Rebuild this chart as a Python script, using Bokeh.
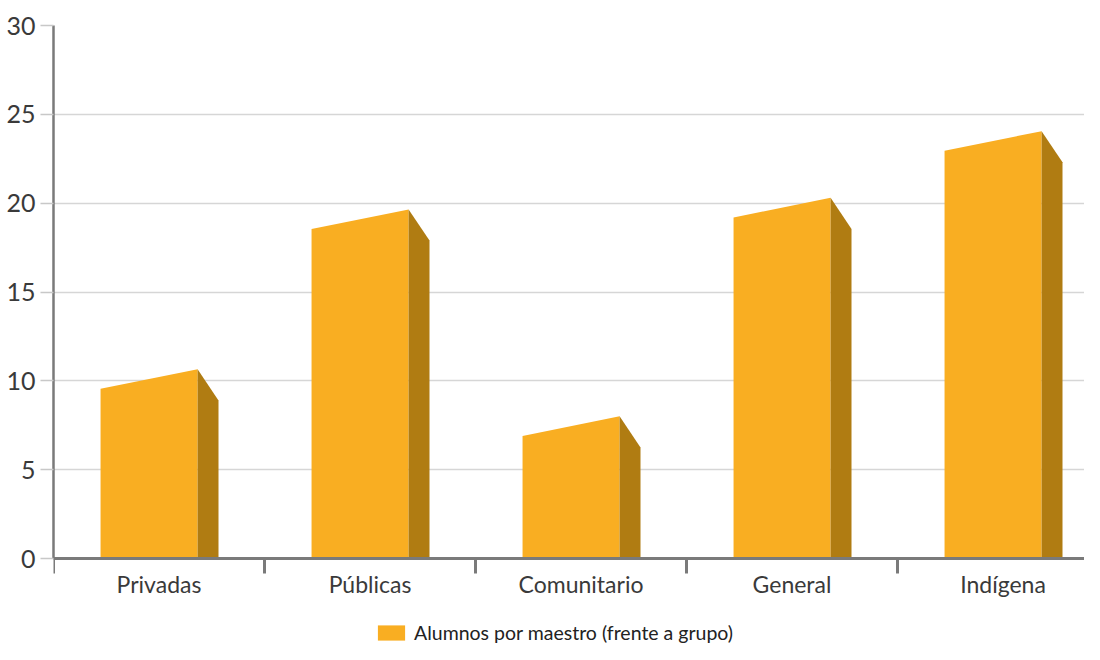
from bokeh.plotting import figure
from bokeh.models import FixedTicker, Legend, LegendItem, ColumnDataSource, Span
from bokeh.core.properties import value
from bokeh.embed import file_html
from bokeh.resources import INLINE

# ---- data ----
categories = ["Privadas", "Públicas", "Comunitario", "General", "Indígena"]
values = [10.1, 19.1, 7.45, 19.75, 23.5]
series_name = "Alumnos por maestro (frente a grupo)"
y_ticks = [0, 5, 10, 15, 20, 25, 30]

# ---- geometry / style ----
FRONT = "#F9AE22"
SIDE = "#B07C12"
AXIS = "#7a7a7a"
front_l, front_r, side_r = -0.277, 0.183, 0.282
slant, side_drop = 0.55, 1.75
FONT = "Lato"

W, H = 1084, 644
left, top = 53, 25
y_top = 30
px_per_unit = 533 / 30.0                      # frame: 0 -> 558px, 30 -> 25px
y_bottom = -(H - 558) / px_per_unit           # extend frame down to hold labels + legend
x_end = (W - left) / 211.0                    # 211 px per category

centers = [i + 0.5 for i in range(len(categories))]
bounds = [float(i) for i in range(len(categories))]
fx, fy, sx, sy = [], [], [], []
for c, v in zip(centers, values):
    fx.append([c + front_l, c + front_r, c + front_r, c + front_l])
    fy.append([0, 0, v + slant, v - slant])
    sx.append([c + front_r, c + side_r, c + side_r, c + front_r])
    sy.append([0, 0, v + slant - side_drop, v + slant])

p = figure(width=W, height=H, output_backend="svg", toolbar_location=None,
           x_range=(0, x_end), y_range=(y_bottom, y_top),
           x_axis_location=None,
           min_border_left=left, min_border_top=top, min_border_right=0, min_border_bottom=0)
p.outline_line_color = None
p.background_fill_color = "white"
p.border_fill_color = "white"

# grid
p.xgrid.grid_line_color = None
p.ygrid.grid_line_color = "#d6d6d6"
p.ygrid.grid_line_width = 1.5
p.ygrid.ticker = FixedTicker(ticks=y_ticks)

src_f = ColumnDataSource(dict(xs=fx, ys=fy))
src_s = ColumnDataSource(dict(xs=sx, ys=sy))
rf = p.patches("xs", "ys", source=src_f, fill_color=FRONT, line_color=None)
rs = p.patches("xs", "ys", source=src_s, fill_color=SIDE, line_color=None)

# y axis
ya = p.yaxis[0]
ya.bounds = (0, y_top)
ya.ticker = FixedTicker(ticks=y_ticks)
ya.axis_line_color = AXIS
ya.axis_line_width = 2.5
ya.major_tick_in = 0
ya.major_tick_out = 13
ya.major_tick_line_color = "#c8c8c8"
ya.major_tick_line_width = 1.5
ya.minor_tick_line_color = None
ya.major_label_text_font = FONT
ya.major_label_text_font_size = "25px"
ya.major_label_text_color = "#3a3a3a"
ya.major_label_standoff = 5

# category (x) axis drawn at y = 0
p.add_layout(Span(location=0, dimension="width", line_color=AXIS, line_width=3))
tick_len = 15 / px_per_unit
p.segment(x0=bounds, y0=[0] * len(bounds), x1=bounds, y1=[-tick_len] * len(bounds),
          line_color=AXIS, line_width=3)
p.text(x=centers, y=[0] * len(centers), text=categories,
       text_align="center", text_baseline="top", y_offset=11,
       text_font=value(FONT), text_font_size="23px", text_color="#3a3a3a")

legend = Legend(items=[LegendItem(label=series_name, renderers=[rf])],
                location=(321, 0), orientation="horizontal",
                border_line_color=None, background_fill_alpha=0,
                padding=0, margin=0, glyph_width=34, glyph_height=19,
                label_standoff=6, label_text_font=FONT,
                label_text_font_size="19.5px", label_text_color="#222222")
p.add_layout(legend, "center")

open("out.html", "w").write(file_html(p, INLINE))
